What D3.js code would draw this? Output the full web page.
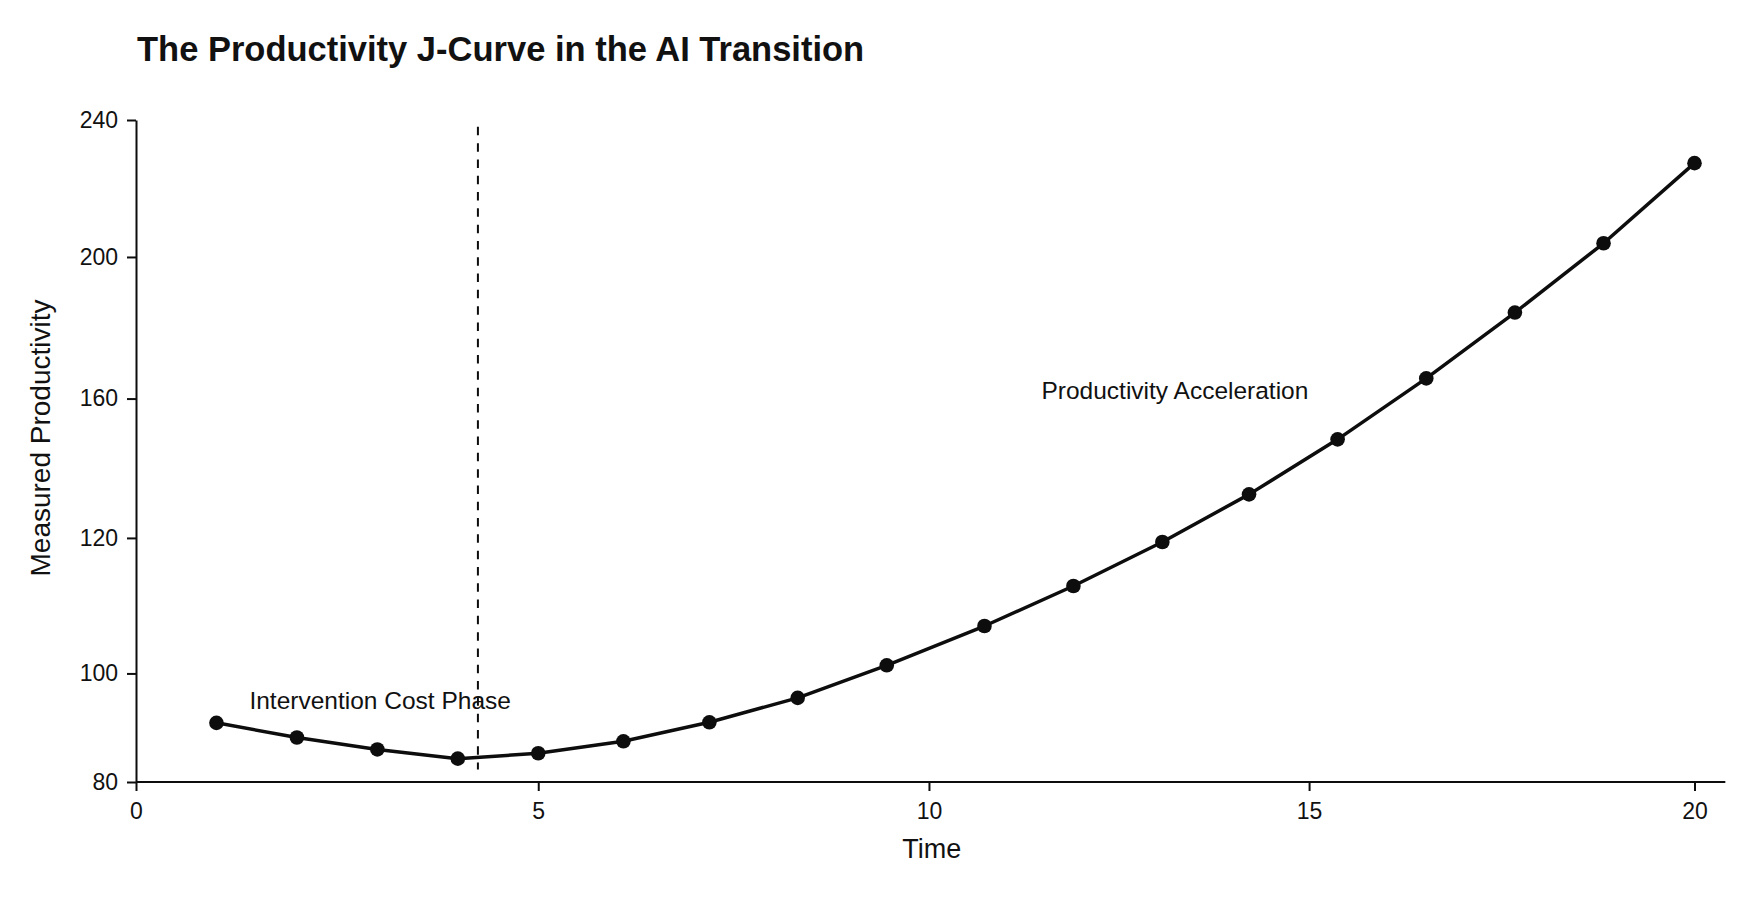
<!DOCTYPE html>
<html>
<head>
  <style>
    body { margin: 0; background: #fff; }
    svg text { font-family: "Liberation Sans", Arial, sans-serif; fill: #111; }
  </style>
</head>
<body>
  <svg id="chart" width="1752" height="898"></svg>
  <script src="https://d3js.org/d3.v7.min.js"></script>
  <script>
    // values
    const time = [1, 2, 3, 4, 5, 6.09, 7.19, 8.32, 9.46, 10.73, 11.9, 13.07, 14.21, 15.37, 16.52, 17.67, 18.82, 20]
    const productivity = [90.9, 88.2, 86.0, 84.3, 85.3, 87.5, 91.0, 95.5, 101.2, 107.0, 112.9, 119.4, 132.5, 148.3, 165.7, 184.3, 204.0, 227.4]
    const xTicks = [0, 5, 10, 15, 20]
    const yTicks = [80, 100, 120, 160, 200, 240]
    const xMax = 20.4
    const phaseLine = { x: 4.25, from: 82.3, to: 238 }
    const notes = [
      { text: 'Intervention Cost Phase', x: 1.41, y: 93.4 },
      { text: 'Productivity Acceleration', x: 11.48, y: 159.9 }
    ]

    const W = 1752, H = 898
    const m = { left: 136, right: 57.5, top: 120, bottom: 116 }
    const pw = W - m.left - m.right, ph = H - m.top - m.bottom
    // the source axes are not evenly spaced, so each tick gets its own stop
    const xStops = [0, 0.2581, 0.5088, 0.7527, 1]
    const yStops = [0, 0.164, 0.3687, 0.5792, 0.7931, 1]

    const x = d3.scaleLinear().domain(xTicks).range(xStops.map(f => m.left + f * pw))
    const y = d3.scaleLinear().domain(yTicks).range(yStops.map(f => m.top + ph - f * ph))

    const svg = d3.select('#chart')
    const ink = '#0d0d0d'

    // x axis
    const gx = svg.append('g')
      .attr('transform', `translate(0,${y(80)})`)
      .call(d3.axisBottom(x).tickValues(xTicks).tickSize(9).tickPadding(12).tickFormat(d3.format('d')))
    gx.select('.domain').remove()
    gx.append('line')
      .attr('x1', x(0)).attr('x2', x(xMax))
      .attr('stroke', ink).attr('stroke-width', 2)

    // y axis
    const gy = svg.append('g')
      .attr('transform', `translate(${x(0)},0)`)
      .call(d3.axisLeft(y).tickValues(yTicks).tickSize(9).tickPadding(9).tickSizeOuter(0))

    svg.selectAll('.tick line').attr('stroke', ink).attr('stroke-width', 2)
    gy.select('.domain').attr('stroke', ink).attr('stroke-width', 2)
    svg.selectAll('.tick text')
      .attr('font-size', 23)
      .attr('font-family', '"Liberation Sans", Arial, sans-serif')
      .attr('fill', ink)

    // phase marker
    svg.append('line')
      .attr('x1', x(phaseLine.x)).attr('x2', x(phaseLine.x))
      .attr('y1', y(phaseLine.to)).attr('y2', y(phaseLine.from))
      .attr('stroke', ink).attr('stroke-width', 2)
      .attr('stroke-dasharray', '8.5 7.8')

    // curve and dots
    const pts = time.map((t, i) => [t, productivity[i]])
    svg.append('path')
      .datum(pts)
      .attr('fill', 'none')
      .attr('stroke', ink)
      .attr('stroke-width', 3.5)
      .attr('stroke-linejoin', 'round')
      .attr('d', d3.line().x(d => x(d[0])).y(d => y(d[1])))

    svg.selectAll('.dot').data(pts).enter()
      .append('circle')
      .attr('class', 'dot')
      .attr('cx', d => x(d[0]))
      .attr('cy', d => y(d[1]))
      .attr('r', 7.3)
      .attr('fill', ink)

    // annotations
    svg.selectAll('.note').data(notes).enter()
      .append('text')
      .attr('class', 'note')
      .attr('x', d => x(d.x))
      .attr('y', d => y(d.y))
      .attr('font-size', 24.5)
      .text(d => d.text)

    // titles
    svg.append('text')
      .attr('x', 137).attr('y', 61)
      .attr('font-size', 34.5).attr('font-weight', 'bold')
      .text('The Productivity J-Curve in the AI Transition')

    svg.append('text')
      .attr('x', (x(0) + x(xMax)) / 2 + 1).attr('y', 858)
      .attr('text-anchor', 'middle')
      .attr('font-size', 27)
      .text('Time')

    svg.append('text')
      .attr('transform', `translate(50,${(y(80) + y(240)) / 2 - 13}) rotate(-90)`)
      .attr('text-anchor', 'middle')
      .attr('font-size', 28)
      .text('Measured Productivity')
  </script>
</body>
</html>
